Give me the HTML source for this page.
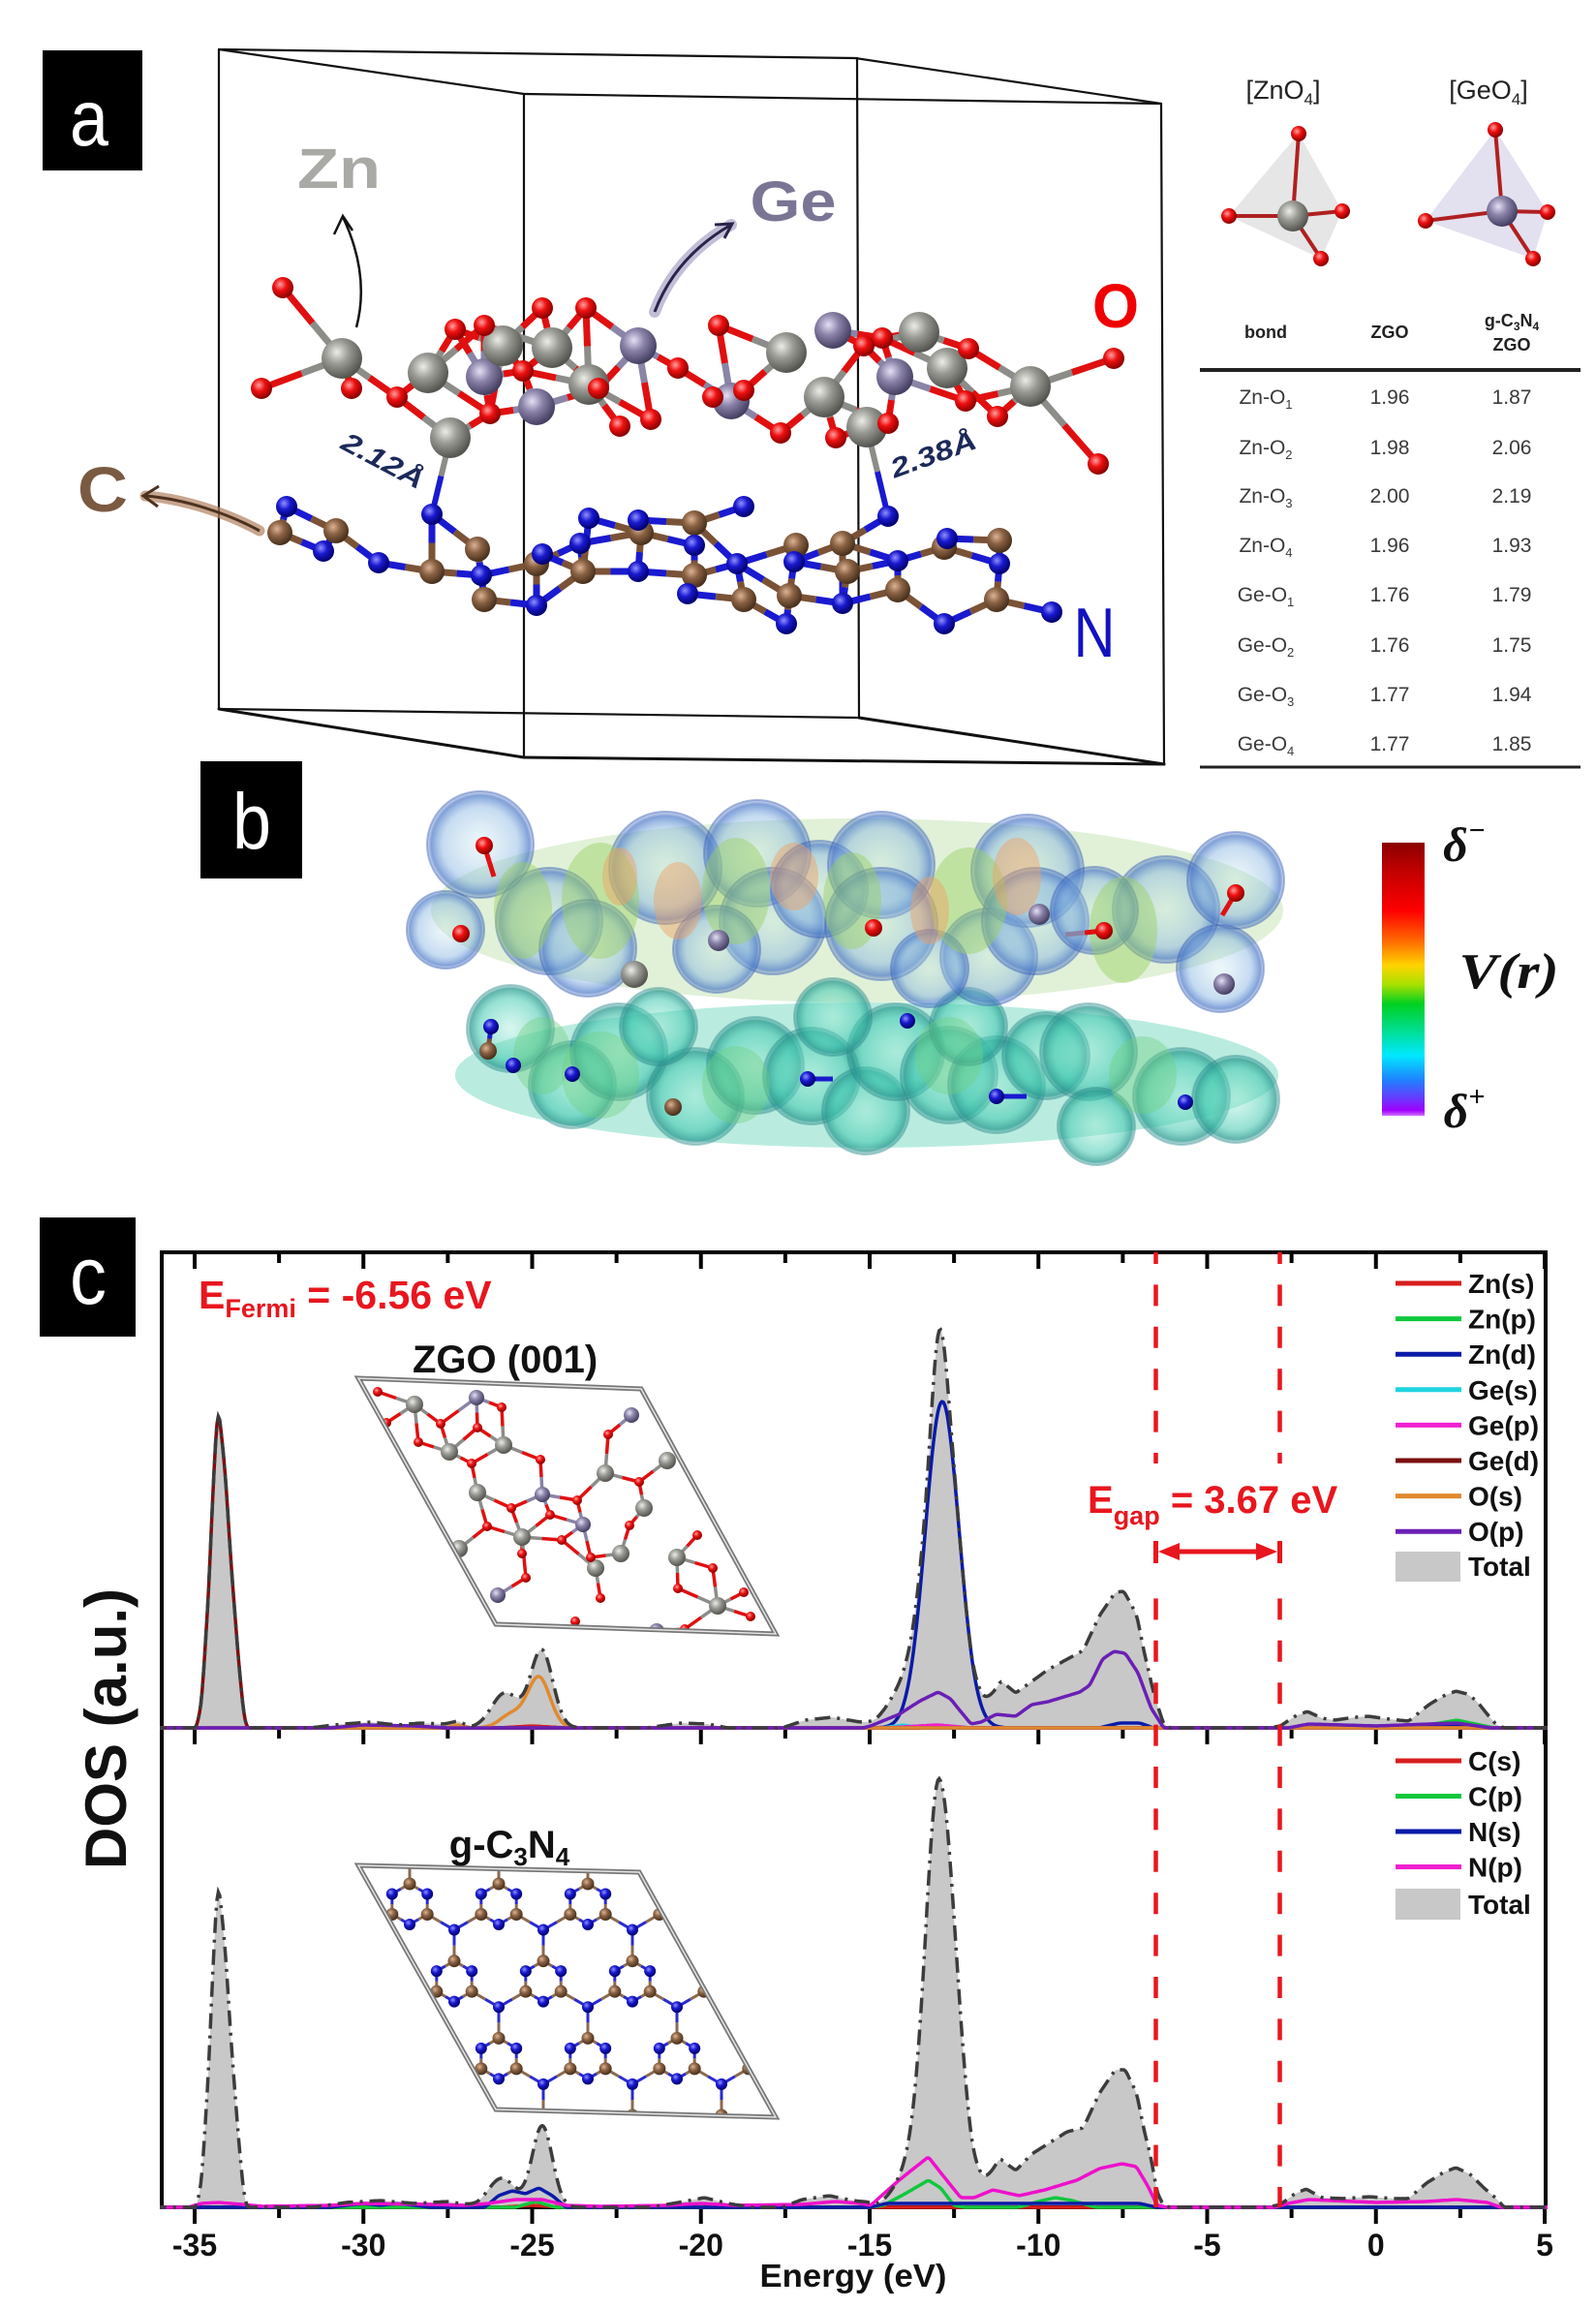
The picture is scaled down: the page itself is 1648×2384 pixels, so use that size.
<!DOCTYPE html>
<html><head><meta charset="utf-8">
<style>
html,body{margin:0;padding:0;background:#fff;}
svg{display:block;}
text{font-family:"Liberation Sans",Arial,sans-serif;}
.serif{font-family:"Liberation Serif","DejaVu Serif",serif;}
</style></head><body>
<svg id="s" xmlns="http://www.w3.org/2000/svg" width="1648" height="2384" viewBox="0 0 1648 2384">
<defs>
 <clipPath id="cpTop"><rect x="165" y="1293" width="1433" height="494"/></clipPath>
 <clipPath id="cpBot"><rect x="165" y="1784" width="1433" height="498"/></clipPath>
 <clipPath id="cpZ"><polygon points="370,1423 662,1434 801,1687 512,1677"/></clipPath>
 <clipPath id="cpG"><polygon points="370,1926 660,1933 801,2186 512,2178"/></clipPath>
 <linearGradient id="cbar" x1="0" y1="0" x2="0" y2="1">
  <stop offset="0" stop-color="#8b0000"/><stop offset="0.1" stop-color="#c00000"/>
  <stop offset="0.25" stop-color="#ff0000"/><stop offset="0.36" stop-color="#ff6a00"/>
  <stop offset="0.45" stop-color="#ffd400"/><stop offset="0.52" stop-color="#a8e000"/>
  <stop offset="0.59" stop-color="#00d020"/><stop offset="0.7" stop-color="#00e0a0"/>
  <stop offset="0.78" stop-color="#00e8ff"/><stop offset="0.87" stop-color="#2080ff"/>
  <stop offset="0.93" stop-color="#6040ff"/><stop offset="0.98" stop-color="#a000ff"/>
  <stop offset="1" stop-color="#d070ff"/>
 </linearGradient>
 <radialGradient id="gZn" cx="0.38" cy="0.35" r="0.65"><stop offset="0" stop-color="#ececE8"/><stop offset="0.45" stop-color="#9a9a94"/><stop offset="1" stop-color="#55554f"/></radialGradient>
 <radialGradient id="gGe" cx="0.38" cy="0.35" r="0.65"><stop offset="0" stop-color="#e4e0f4"/><stop offset="0.45" stop-color="#8a82a8"/><stop offset="1" stop-color="#453f62"/></radialGradient>
 <radialGradient id="gO" cx="0.38" cy="0.35" r="0.65"><stop offset="0" stop-color="#ffa0a0"/><stop offset="0.45" stop-color="#ee1010"/><stop offset="1" stop-color="#8a0000"/></radialGradient>
 <radialGradient id="gN" cx="0.38" cy="0.35" r="0.65"><stop offset="0" stop-color="#9090ff"/><stop offset="0.45" stop-color="#1a1ad0"/><stop offset="1" stop-color="#00006e"/></radialGradient>
 <radialGradient id="gC" cx="0.38" cy="0.35" r="0.65"><stop offset="0" stop-color="#dcb494"/><stop offset="0.45" stop-color="#8a6244"/><stop offset="1" stop-color="#48301c"/></radialGradient>
 <radialGradient id="bu" cx="0.5" cy="0.5" r="0.5"><stop offset="0" stop-color="#b8e0e8" stop-opacity="0.25"/><stop offset="0.7" stop-color="#80b0e0" stop-opacity="0.45"/><stop offset="0.92" stop-color="#4a78c8" stop-opacity="0.7"/><stop offset="1" stop-color="#3a60b8" stop-opacity="0.2"/></radialGradient>
 <radialGradient id="bl" cx="0.5" cy="0.5" r="0.5"><stop offset="0" stop-color="#90e8d0" stop-opacity="0.35"/><stop offset="0.7" stop-color="#40c8b0" stop-opacity="0.55"/><stop offset="0.92" stop-color="#2a9a90" stop-opacity="0.75"/><stop offset="1" stop-color="#2a8a90" stop-opacity="0.2"/></radialGradient>
</defs>
<rect width="1648" height="2384" fill="#fff"/>

<!-- ================= PANEL A ================= -->
<rect x="44" y="52" width="103" height="124" fill="#000"/>
<text x="92" y="150" fill="#fff" font-size="82" text-anchor="middle" textLength="40" lengthAdjust="spacingAndGlyphs">a</text>

<g stroke="#111" stroke-width="2.2" fill="none" stroke-linecap="round">
 <line x1="226" y1="51" x2="883" y2="60"/>
 <line x1="226" y1="51" x2="541" y2="97"/>
 <line x1="541" y1="97" x2="1199" y2="107"/>
 <line x1="883" y1="60" x2="1199" y2="107"/>
 <line x1="226" y1="51" x2="226" y2="732"/>
 <line x1="541" y1="97" x2="541" y2="782"/>
 <line x1="885" y1="60" x2="887" y2="741"/>
 <line x1="1199" y1="107" x2="1202" y2="789"/>
 <line x1="226" y1="732" x2="541" y2="782" stroke-width="3"/>
 <line x1="541" y1="782" x2="1202" y2="789" stroke-width="3"/>
 <line x1="226" y1="732" x2="887" y2="741"/>
 <line x1="887" y1="741" x2="1202" y2="789" stroke-width="3"/>
</g>

<g id="molB"></g>
<g id="molA"></g>

<!-- arrows -->
<path d="M368,338 C378,300 372,262 354,224" fill="none" stroke="#fff" stroke-width="8" opacity="0.9"/>
<path d="M368,338 C378,300 372,262 354,224 M345,242 L354,223 L364,238" fill="none" stroke="#111" stroke-width="2.5"/>
<path d="M676,322 C690,285 715,255 755,232" fill="none" stroke="#a9a2c8" stroke-width="12" opacity="0.7" stroke-linecap="round"/>
<path d="M676,322 C690,285 715,255 755,232 M738,232 L756,231 L748,246" fill="none" stroke="#2a2448" stroke-width="3"/>
<path d="M268,548 C235,530 190,515 150,512" fill="none" stroke="#b08060" stroke-width="11" opacity="0.7" stroke-linecap="round"/>
<path d="M268,548 C235,530 190,515 150,512 M164,502 L148,512 L163,523" fill="none" stroke="#4e3220" stroke-width="3"/>

<text x="350" y="194" fill="#a9a9a5" font-size="58" font-weight="bold" text-anchor="middle" textLength="86" lengthAdjust="spacingAndGlyphs">Zn</text>
<text x="819" y="228" fill="#7b7595" font-size="58" font-weight="bold" text-anchor="middle" textLength="89" lengthAdjust="spacingAndGlyphs">Ge</text>
<text x="1152" y="338" fill="#f00000" font-size="64" font-weight="bold" text-anchor="middle" textLength="48" lengthAdjust="spacingAndGlyphs">O</text>
<text x="1130" y="678" fill="#1212c0" font-size="72" text-anchor="middle" textLength="43" lengthAdjust="spacingAndGlyphs">N</text>
<text x="106" y="528" fill="#7b5a42" font-size="66" font-weight="bold" text-anchor="middle" textLength="52" lengthAdjust="spacingAndGlyphs">C</text>
<text transform="translate(391,484) rotate(28)" fill="#1c2a5a" font-size="28" font-weight="bold" font-style="italic" text-anchor="middle" textLength="92" lengthAdjust="spacingAndGlyphs">2.12Å</text>
<text transform="translate(967,478) rotate(-20)" fill="#1c2a5a" font-size="28" font-weight="bold" font-style="italic" text-anchor="middle" textLength="92" lengthAdjust="spacingAndGlyphs">2.38Å</text>

<!-- table -->
<text x="1325" y="102" font-size="27" text-anchor="middle" fill="#222">[ZnO<tspan font-size="17" dy="6">4</tspan><tspan dy="-6">]</tspan></text>
<text x="1537" y="102" font-size="27" text-anchor="middle" fill="#222">[GeO<tspan font-size="17" dy="6">4</tspan><tspan dy="-6">]</tspan></text>
<polygon points="1341,138 1269,223 1364,267 1386,218" fill="#b8b8b8" opacity="0.35"/>
<polygon points="1544,134 1472,228 1583,267 1598,219" fill="#b8b4d8" opacity="0.4"/>
<g stroke-width="4">
 <line x1="1335" y1="223" x2="1341" y2="138" stroke="#b02020"/>
 <line x1="1335" y1="223" x2="1269" y2="223" stroke="#b02020"/>
 <line x1="1335" y1="223" x2="1386" y2="218" stroke="#b02020"/>
 <line x1="1335" y1="223" x2="1364" y2="267" stroke="#b02020"/>
 <line x1="1551" y1="218" x2="1544" y2="134" stroke="#b02020"/>
 <line x1="1551" y1="218" x2="1472" y2="228" stroke="#b02020"/>
 <line x1="1551" y1="218" x2="1598" y2="219" stroke="#b02020"/>
 <line x1="1551" y1="218" x2="1583" y2="267" stroke="#b02020"/>
</g>
<circle cx="1335" cy="223" r="16" fill="url(#gZn)"/>
<circle cx="1551" cy="218" r="16" fill="url(#gGe)"/>
<g fill="url(#gO)">
 <circle cx="1341" cy="138" r="8"/><circle cx="1269" cy="223" r="8"/><circle cx="1386" cy="218" r="8"/><circle cx="1364" cy="267" r="8"/>
 <circle cx="1544" cy="134" r="8"/><circle cx="1472" cy="228" r="8"/><circle cx="1598" cy="219" r="8"/><circle cx="1583" cy="267" r="8"/>
</g>
<g font-size="18" font-weight="bold" text-anchor="middle" fill="#222">
 <text x="1307" y="349">bond</text>
 <text x="1435" y="349">ZGO</text>
 <text x="1561" y="337">g-C<tspan font-size="12" dy="4">3</tspan><tspan dy="-4">N</tspan><tspan font-size="12" dy="4">4</tspan></text>
 <text x="1561" y="362">ZGO</text>
</g>
<line x1="1239" y1="382" x2="1632" y2="382" stroke="#222" stroke-width="4"/>
<line x1="1239" y1="792" x2="1632" y2="792" stroke="#222" stroke-width="3"/>
<g font-size="21" text-anchor="middle" fill="#3a3a3a">
 <text x="1307" y="417">Zn-O<tspan font-size="13" dy="5">1</tspan></text><text x="1435" y="417">1.96</text><text x="1561" y="417">1.87</text>
 <text x="1307" y="469">Zn-O<tspan font-size="13" dy="5">2</tspan></text><text x="1435" y="469">1.98</text><text x="1561" y="469">2.06</text>
 <text x="1307" y="519">Zn-O<tspan font-size="13" dy="5">3</tspan></text><text x="1435" y="519">2.00</text><text x="1561" y="519">2.19</text>
 <text x="1307" y="570">Zn-O<tspan font-size="13" dy="5">4</tspan></text><text x="1435" y="570">1.96</text><text x="1561" y="570">1.93</text>
 <text x="1307" y="621">Ge-O<tspan font-size="13" dy="5">1</tspan></text><text x="1435" y="621">1.76</text><text x="1561" y="621">1.79</text>
 <text x="1307" y="673">Ge-O<tspan font-size="13" dy="5">2</tspan></text><text x="1435" y="673">1.76</text><text x="1561" y="673">1.75</text>
 <text x="1307" y="724">Ge-O<tspan font-size="13" dy="5">3</tspan></text><text x="1435" y="724">1.77</text><text x="1561" y="724">1.94</text>
 <text x="1307" y="775">Ge-O<tspan font-size="13" dy="5">4</tspan></text><text x="1435" y="775">1.77</text><text x="1561" y="775">1.85</text>
</g>

<!-- ================= PANEL B ================= -->
<rect x="207" y="786" width="105" height="121" fill="#000"/>
<text x="260" y="876" fill="#fff" font-size="82" text-anchor="middle" textLength="40" lengthAdjust="spacingAndGlyphs">b</text>
<g id="esp"></g>
<rect x="1427" y="870" width="44" height="282" fill="url(#cbar)"/>
<text class="serif" x="1512" y="889" font-size="50" font-style="italic" font-weight="bold" text-anchor="middle" fill="#111">δ<tspan font-size="30" dy="-22">−</tspan></text>
<text class="serif" x="1558" y="1020" font-size="52" font-style="italic" font-weight="bold" text-anchor="middle" fill="#111" textLength="103" lengthAdjust="spacingAndGlyphs">V(r)</text>
<text class="serif" x="1512" y="1164" font-size="50" font-style="italic" font-weight="bold" text-anchor="middle" fill="#111">δ<tspan font-size="30" dy="-22">+</tspan></text>

<!-- ================= PANEL C ================= -->
<rect x="41" y="1257" width="99" height="123" fill="#000"/>
<text x="91" y="1346" fill="#fff" font-size="84" text-anchor="middle" textLength="38" lengthAdjust="spacingAndGlyphs">c</text>

<g id="plotTop" clip-path="url(#cpTop)"></g>
<g id="plotBot" clip-path="url(#cpBot)"></g>
<g id="frame"></g>
<g id="plotTop2" clip-path="url(#cpTop)"></g>
<g id="plotBot2" clip-path="url(#cpBot)"></g>
<g id="redlines"></g>

<g id="insetZ"></g>
<g id="insetG"></g>

<text x="205" y="1351" fill="#e8161e" font-weight="bold" font-size="41">E<tspan font-size="27" dy="9">Fermi</tspan><tspan dy="-9"> = -6.56 eV</tspan></text>
<text x="1123" y="1562" fill="#e8161e" font-weight="bold" font-size="40">E<tspan font-size="27" dy="12">gap</tspan><tspan dy="-12"> = 3.67 eV</tspan></text>
<text x="426" y="1417" font-weight="bold" font-size="40" fill="#111">ZGO (001)</text>
<text x="526" y="1918" font-weight="bold" font-size="40" fill="#111" text-anchor="middle">g-C<tspan font-size="26" dy="8">3</tspan><tspan dy="-8">N</tspan><tspan font-size="26" dy="8">4</tspan></text>

<!-- legends -->
<g stroke-width="5">
 <line x1="1441" y1="1325" x2="1509" y2="1325" stroke="#d81e1e"/>
 <line x1="1441" y1="1361.6" x2="1509" y2="1361.6" stroke="#10c83c"/>
 <line x1="1441" y1="1398.2" x2="1509" y2="1398.2" stroke="#0a1aa8"/>
 <line x1="1441" y1="1434.8" x2="1509" y2="1434.8" stroke="#1ed4e0"/>
 <line x1="1441" y1="1471.4" x2="1509" y2="1471.4" stroke="#f020d0"/>
 <line x1="1441" y1="1508" x2="1509" y2="1508" stroke="#7a1010"/>
 <line x1="1441" y1="1544.6" x2="1509" y2="1544.6" stroke="#e08a30"/>
 <line x1="1441" y1="1581.2" x2="1509" y2="1581.2" stroke="#6a1fb5"/>
 <line x1="1441" y1="1818" x2="1509" y2="1818" stroke="#d81e1e"/>
 <line x1="1441" y1="1854.5" x2="1509" y2="1854.5" stroke="#10c83c"/>
 <line x1="1441" y1="1891" x2="1509" y2="1891" stroke="#0a1aa8"/>
 <line x1="1441" y1="1927.5" x2="1509" y2="1927.5" stroke="#f020d0"/>
</g>
<rect x="1441" y="1602" width="67" height="31" fill="#c8c8c8"/>
<rect x="1441" y="1950" width="67" height="32" fill="#c8c8c8"/>
<g font-size="28" font-weight="bold" fill="#111">
 <text x="1516" y="1335">Zn(s)</text>
 <text x="1516" y="1371.6">Zn(p)</text>
 <text x="1516" y="1408.2">Zn(d)</text>
 <text x="1516" y="1444.8">Ge(s)</text>
 <text x="1516" y="1481.4">Ge(p)</text>
 <text x="1516" y="1518">Ge(d)</text>
 <text x="1516" y="1554.6">O(s)</text>
 <text x="1516" y="1591.2">O(p)</text>
 <text x="1516" y="1627">Total</text>
 <text x="1516" y="1828">C(s)</text>
 <text x="1516" y="1864.5">C(p)</text>
 <text x="1516" y="1901">N(s)</text>
 <text x="1516" y="1937.5">N(p)</text>
 <text x="1516" y="1976">Total</text>
</g>

<!-- axis labels -->
<g font-size="32" font-weight="bold" fill="#111" text-anchor="middle">
 <text x="201" y="2329">-35</text>
 <text x="375.25" y="2329">-30</text>
 <text x="549.5" y="2329">-25</text>
 <text x="723.75" y="2329">-20</text>
 <text x="898" y="2329">-15</text>
 <text x="1072.25" y="2329">-10</text>
 <text x="1246.5" y="2329">-5</text>
 <text x="1420.75" y="2329">0</text>
 <text x="1595" y="2329">5</text>
</g>
<text x="881" y="2361" font-size="33" font-weight="bold" fill="#111" text-anchor="middle" textLength="193" lengthAdjust="spacingAndGlyphs">Energy (eV)</text>
<text transform="translate(130,1785) rotate(-90)" font-size="60" font-weight="bold" fill="#111" text-anchor="middle" textLength="290" lengthAdjust="spacingAndGlyphs">DOS (a.u.)</text>
</svg>

<script>
(function(){
const NS="http://www.w3.org/2000/svg";
function E_(tag,at,par){const e=document.createElementNS(NS,tag);for(const k in at)e.setAttribute(k,at[k]);par.appendChild(e);return e;}
const $=id=>document.getElementById(id);
function atom(par,x,y,r,g){E_('circle',{cx:x,cy:y,r:r,fill:'url(#'+g+')'},par);}
function bond(par,x1,y1,x2,y2,c1,c2,w){const mx=(x1+x2)/2,my=(y1+y2)/2;
 E_('line',{x1:x1,y1:y1,x2:mx,y2:my,stroke:c1,'stroke-width':w},par);
 E_('line',{x1:mx,y1:my,x2:x2,y2:y2,stroke:c2,'stroke-width':w},par);}
const dist=(a,b)=>Math.hypot(a[0]-b[0],a[1]-b[1]);

/* ---------- panel a molecule ---------- */
{
const Zn=[[353,370],[442,385],[519,357],[570,359],[608,397],[465,452],[812,364],[949,343],[978,380],[851,410],[1064,399],[895,441]];
const Ge=[[500,389],[554,420],[659,357],[860,341],[924,389],[755,414]];
const O=[[292,297],[270,401],[363,401],[500,336],[560,318],[605,318],[618,401],[506,427],[672,433],[742,336],[736,410],[768,403],[806,447],[863,452],[917,437],[911,349],[892,357],[997,414],[1150,370],[1134,479],[540,383],[700,380],[1000,360],[410,410],[470,340],[640,440],[1030,430]];
const N=[[296,523],[446,531],[334,569],[391,581],[497,594],[554,625],[599,561],[608,535],[659,537],[659,590],[710,613],[768,523],[812,644],[917,533],[927,579],[978,556],[1032,582],[975,644],[1086,632],[870,623],[761,582],[717,563],[560,572],[820,580]];
const C=[[289,550],[347,548],[446,590],[493,567],[500,619],[554,582],[602,590],[662,550],[717,540],[717,594],[768,619],[815,615],[822,563],[870,561],[927,609],[975,565],[1032,558],[1029,619],[875,590]];
const B=$('molB'),A=$('molA');
C.forEach(c=>N.forEach(n=>{if(dist(c,n)<64)bond(B,c[0],c[1],n[0],n[1],'#7a5236','#1a1ad0',7);}));
Zn.forEach(m=>O.forEach(o=>{if(dist(m,o)<80)bond(B,m[0],m[1],o[0],o[1],'#8c8c88','#e01010',7);}));
Ge.forEach(m=>O.forEach(o=>{if(dist(m,o)<80)bond(B,m[0],m[1],o[0],o[1],'#8a84a6','#e01010',7);}));
[[353,370,292,297],[353,370,270,401],[1064,399,1150,370],[1064,399,1134,479]].forEach(b=>bond(B,b[0],b[1],b[2],b[3],'#8c8c88','#e01010',7));
bond(B,465,452,446,531,'#8c8c88','#1a1ad0',6);
bond(B,895,441,917,533,'#8c8c88','#1a1ad0',6);
C.forEach(p=>atom(A,p[0],p[1],13,'gC'));
N.forEach(p=>atom(A,p[0],p[1],11,'gN'));
Ge.forEach(p=>atom(A,p[0],p[1],19,'gGe'));
Zn.forEach(p=>atom(A,p[0],p[1],21,'gZn'));
O.forEach(p=>atom(A,p[0],p[1],11,'gO'));
}

/* ---------- panel b ESP ---------- */
{
const g=$('esp');
E_('ellipse',{cx:885,cy:940,rx:440,ry:95,fill:'#a8d890',opacity:0.35},g);
E_('ellipse',{cx:895,cy:1110,rx:425,ry:75,fill:'#50d0b0',opacity:0.4},g);
const up=[[496,872,55],[567,951,55],[607,979,50],[687,896,58],[782,881,55],[798,951,55],[846,918,50],[910,893,55],[910,954,58],[1021,988,50],[1061,899,58],[1069,951,55],[1204,939,55],[1276,909,50],[1260,1000,45],[460,960,40],[740,980,45],[960,1000,40],[1130,940,45]];
const lo=[[527,1062,45],[591,1120,45],[639,1086,50],[718,1132,50],[780,1100,50],[838,1111,50],[894,1147,45],[925,1086,50],[980,1110,50],[1029,1120,50],[1080,1090,45],[1124,1086,50],[1132,1163,40],[1220,1132,50],[1276,1135,45],[680,1060,40],[860,1050,40],[1000,1060,40]];
lo.forEach(b=>E_('circle',{cx:b[0],cy:b[1],r:b[2],fill:'url(#bl)',stroke:'#2a8a8a','stroke-width':2,'stroke-opacity':0.4},g));
up.forEach(b=>E_('circle',{cx:b[0],cy:b[1],r:b[2],fill:'url(#bu)',stroke:'#3a62b8','stroke-width':2,'stroke-opacity':0.45},g));
[[620,930,40,60],[760,920,35,55],[1000,930,40,55],[1160,960,35,55],[880,930,30,50],[540,940,30,50]].forEach(e=>E_('ellipse',{cx:e[0],cy:e[1],rx:e[2],ry:e[3],fill:'#9ad060',opacity:0.45},g));
[[700,930,25,40],[820,905,25,35],[1050,905,25,40],[960,940,20,35],[640,905,18,30]].forEach(e=>E_('ellipse',{cx:e[0],cy:e[1],rx:e[2],ry:e[3],fill:'#f0a060',opacity:0.45},g));
[[620,1110,40,45],[760,1120,35,40],[980,1090,35,40],[1180,1110,35,40],[560,1090,30,40]].forEach(e=>E_('ellipse',{cx:e[0],cy:e[1],rx:e[2],ry:e[3],fill:'#70d080',opacity:0.4},g));
bond(g,500,873,510,905,'#e01010','#e01010',5);
bond(g,1140,961,1100,965,'#e01010','#8a84a6',5);
bond(g,1276,922,1262,945,'#e01010','#e01010',5);
bond(g,507,1060,504,1085,'#1a1ad0','#7a5236',5);
bond(g,834,1114,860,1114,'#1a1ad0','#1a1ad0',5);
bond(g,1029,1132,1060,1132,'#1a1ad0','#1a1ad0',5);
[[500,873],[476,964],[902,958],[1140,961],[1276,922]].forEach(p=>atom(g,p[0],p[1],9,'gO'));
[[742,971],[1073,944],[1264,1016]].forEach(p=>atom(g,p[0],p[1],11,'gGe'));
atom(g,655,1006,14,'gZn');
[[507,1060],[591,1109],[834,1114],[1029,1132],[1224,1138],[937,1054],[530,1100]].forEach(p=>atom(g,p[0],p[1],8,'gN'));
[[504,1085],[695,1143]].forEach(p=>atom(g,p[0],p[1],9,'gC'));
}

/* ---------- panel c chart ---------- */
const X=e=>201+(e+35)*34.85;
const peak34=[[-34.95,0],[-34.8,25],[-34.6,130],[-34.45,250],[-34.35,315],[-34.3,327],[-34.25,318],[-34.1,265],[-33.9,160],[-33.7,70],[-33.55,15],[-33.45,0]];
const scaleP=(p,k)=>p.map(q=>[q[0],q[1]*k]);
function interp(pts,e){if(!pts.length||e<=pts[0][0]||e>=pts[pts.length-1][0])return 0;
 for(let i=1;i<pts.length;i++){if(e<=pts[i][0]){const a=pts[i-1],b=pts[i];return a[1]+(b[1]-a[1])*(e-a[0])/(b[0]-a[0]);}}return 0;}
function series(gs,pts){
 pts=pts.slice().sort((a,b)=>a[0]-b[0]);
 const xs=[],vg=[],vp=[];
 for(let e=-36.3;e<=5.3;e+=0.04){xs.push(e);
  let v=0;for(const g of gs){const c=g[0],h=g[1],s=(g.length>3&&e>c)?g[3]:g[2];v+=h*Math.exp(-(e-c)*(e-c)/(2*s*s));}
  vg.push(v);vp.push(interp(pts,e));}
 const vs=vp.map((v,i)=>{let s=0,n=0;for(let k=-1;k<=1;k++){const j=i+k;if(j>=0&&j<vp.length){s+=vp[j];n++;}}return s/n+vg[i];});
 return [xs,vs];}
function pathOf(sr,yb){const [xs,vs]=sr;let d='';xs.forEach((e,i)=>{d+=(i?'L':'M')+X(e).toFixed(1)+','+(yb-vs[i]).toFixed(1);});return d;}
function fillOf(sr,yb){const xs=sr[0];return pathOf(sr,yb)+'L'+X(xs[xs.length-1]).toFixed(1)+','+yb+'L'+X(xs[0]).toFixed(1)+','+yb+'Z';}

const ybT=1784, ybB=2279;
const totT=series([[-24.72,80,0.33],[-25.8,36,0.4],[-12.85,337,0.5],[-12.95,75,0.2],[-14.0,35,0.5]],
 peak34.concat([[-31.6,0],[-30.6,4],[-29.8,6],[-29,3],[-28.3,5],[-27.6,4],[-27.2,7],[-26.8,0],[-21.6,0],[-20.6,5],[-19.8,4],[-19.2,0],[-17.6,0],[-16.9,8],[-16.1,11],[-15.5,7],[-15.1,3],[-14.8,0],[-12.0,0],[-11.6,18],[-11.1,48],[-10.67,36],[-9.72,60],[-8.67,80],[-8.19,116],[-7.72,140],[-7.47,141],[-7.09,117],[-6.86,77],[-6.57,34],[-6.29,4],[-6.1,0],[-3.2,0],[-2.83,2],[-2.4,12],[-2.03,17],[-1.6,10],[-1.23,8],[-0.6,11],[-0.23,12],[0.4,9],[0.97,7],[1.57,24],[2.0,33],[2.37,38],[2.7,35],[2.98,28],[3.3,14],[3.58,3],[3.8,0]]));
const topS=[
 ['#d81e1e',series([],[[-26,0],[-25,2],[-24,0]])],
 ['#10c83c',series([],[[1.0,0],[2.4,8],[3.5,0],[-14.5,0],[-13,3],[-12,0]])],
 ['#0a1aa8',series([[-12.85,337,0.5]],[[-8.2,0],[-7.6,5],[-7.0,5],[-6.6,0],[1.2,0],[2.4,3],[3.4,0],[-30.5,0],[-30,2],[-29,0]])],
 ['#1ed4e0',series([],[[-14.6,0],[-14,3],[-13.5,0]])],
 ['#f020d0',series([],[[-14.5,0],[-13,3],[-12,0]])],
 ['#7a1010',series([],peak34)],
 ['#e08a30',series([[-24.8,52,0.33],[-25.6,14,0.35]],[[-27.6,0],[-27.2,3],[-26.8,0]])],
 ['#6a1fb5',series([],[[-31,0],[-30,3],[-28.5,2],[-27.5,0],[-15.2,0],[-14.97,2],[-14.13,14],[-13.5,28],[-12.97,37],[-12.6,30],[-12.4,21],[-12.0,4],[-11.7,6],[-11.25,14],[-10.67,12],[-10.2,24],[-9.72,27],[-8.77,37],[-8.48,44],[-8.1,71],[-7.76,79],[-7.43,77],[-7.05,57],[-6.67,21],[-6.29,0],[-2.6,0],[-2,4],[0,2],[2.4,5],[3.4,0]])]
];
const totB=series([[-12.93,430,0.4,0.5],[-13.7,40,0.5],[-24.7,84,0.3],[-25.9,30,0.4]],
 scaleP(peak34,331/327).concat([[-31.5,0],[-30.5,5],[-29.5,7],[-28.5,4],[-27.5,6],[-27,3],[-26.6,0],[-21.5,0],[-20.5,6],[-19.9,10],[-19.2,4],[-18.5,0],[-17.6,0],[-17,8],[-16.2,12],[-15.5,7],[-15.1,5],[-14.8,0],[-12.0,0],[-11.6,20],[-11.15,50],[-10.67,38],[-10.2,55],[-9.15,78],[-8.67,82],[-8.19,118],[-7.72,142],[-7.43,142],[-7.09,118],[-6.86,78],[-6.67,52],[-6.48,15],[-6.29,2],[-6.1,0],[-3.2,0],[-2.83,3],[-2.4,14],[-2.07,19],[-1.6,10],[-1.0,9],[-0.2,11],[0.5,9],[0.96,9],[1.5,25],[2.0,36],[2.37,41],[2.8,34],[3.2,20],[3.57,9],[3.8,0]]));
const botS=[
 ['#d81e1e',series([],[[-26,0],[-25,2],[-24,0]])],
 ['#10c83c',series([],[[-15,0],[-14.59,2],[-13.9,15],[-13.26,28],[-12.9,20],[-12.5,2],[-12.2,0],[-10.6,0],[-10,6],[-9.5,10],[-9,7],[-8.3,0],[-25.5,0],[-24.9,6],[-24.3,0]])],
 ['#0a1aa8',series([],[[-15,0],[-14.5,4],[-7,4],[-6.5,0],[-26.4,0],[-26,12],[-25.6,17],[-25.2,14],[-24.8,20],[-24.4,12],[-24.0,0],[-31,0],[-30,4],[-29.5,2],[-29,4],[-28,0]])],
 ['#ee10cc',series([],[[-35.2,0],[-34.8,4],[-34.3,5],[-33.6,3],[-33,1],[-31,2],[-30,4],[-28,3],[-27,2],[-26.3,4],[-25.5,8],[-24.7,8],[-24,2],[-23,1],[-21,2],[-20,4],[-19,2],[-17,3],[-16,6],[-15.3,4],[-14.97,2],[-14.13,28],[-13.26,52],[-12.88,35],[-12.3,10],[-11.9,10],[-11.35,18],[-10.57,12],[-9.81,18],[-8.86,28],[-8.19,40],[-7.52,45],[-7.1,42],[-6.76,22],[-6.48,2],[-6.2,0],[-3,0],[-2.6,4],[-2,8],[0,5],[1.5,6],[2.4,8],[3.3,5],[3.7,0]])]
];
const pT=$('plotTop'),pB=$('plotBot'),pT2=$('plotTop2'),pB2=$('plotBot2');
E_('path',{d:fillOf(totT,ybT),fill:'#c8c8c8'},pT);
E_('path',{d:fillOf(totB,ybB),fill:'#c8c8c8'},pB);
const fr=$('frame');
E_('rect',{x:167,y:1293,width:1429,height:986,fill:'none',stroke:'#000','stroke-width':4},fr);
E_('line',{x1:165,y1:1784,x2:1598,y2:1784,stroke:'#000','stroke-width':4},fr);
for(let k=0;k<=16;k++){const e=-35+k*2.5,x=X(e),L=(k%2===0)?17:11;
 [1293,1784,2279].forEach(y=>E_('line',{x1:x,y1:y,x2:x,y2:y+L,stroke:'#000','stroke-width':4},fr));}
topS.forEach(s=>E_('path',{d:pathOf(s[1],ybT),fill:'none',stroke:s[0],'stroke-width':3.5,'stroke-linejoin':'round'},pT2));
botS.forEach(s=>E_('path',{d:pathOf(s[1],ybB),fill:'none',stroke:s[0],'stroke-width':3.5,'stroke-linejoin':'round'},pB2));
E_('path',{d:pathOf(totT,ybT),fill:'none',stroke:'#3c3c3c','stroke-width':3.5,'stroke-dasharray':'16 7 3 7'},pT2);
E_('path',{d:pathOf(totB,ybB),fill:'none',stroke:'#3c3c3c','stroke-width':3.5,'stroke-dasharray':'16 7 3 7'},pB2);
const rl=$('redlines'),red='#e8161e';
[1193.5,1321.5].forEach(x=>{
 E_('line',{x1:x,y1:1293,x2:x,y2:1511,stroke:red,'stroke-width':4.5,'stroke-dasharray':'22 21.4','stroke-dashoffset':10},rl);
 E_('line',{x1:x,y1:1636,x2:x,y2:2279,stroke:red,'stroke-width':4.5,'stroke-dasharray':'22 21.4','stroke-dashoffset':29},rl);
 E_('line',{x1:x,y1:1591,x2:x,y2:1614,stroke:red,'stroke-width':5},rl);
});
E_('line',{x1:1205,y1:1602,x2:1310,y2:1602,stroke:red,'stroke-width':5},rl);
E_('polygon',{points:'1196,1602 1218,1593 1218,1611',fill:red},rl);
E_('polygon',{points:'1319,1602 1297,1593 1297,1611',fill:red},rl);

/* ZGO inset */
{
const g=$('insetZ');
const gi=E_('g',{'clip-path':'url(#cpZ)'},g);
const Zn=[[428,1450],[464,1499],[520,1492],[493,1541],[474,1599],[539,1587],[625,1521],[689,1508],[665,1557],[641,1604],[699,1608],[741,1658],[615,1619]];
const Ge=[[492,1443],[560,1543],[602,1574],[514,1647],[652,1461],[678,1684]];
const O=[[390,1437],[399,1469],[432,1489],[518,1453],[493,1474],[487,1511],[558,1507],[528,1557],[503,1576],[568,1564],[596,1549],[539,1604],[543,1629],[610,1608],[594,1674],[628,1481],[736,1619],[768,1644],[775,1669],[707,1682],[650,1575],[660,1530],[720,1585],[455,1470],[580,1590],[700,1640],[620,1650]];
Zn.forEach(m=>O.forEach(o=>{if(dist(m,o)<46)bond(gi,m[0],m[1],o[0],o[1],'#8c8c88','#e01010',3.5);}));
Ge.forEach(m=>O.forEach(o=>{if(dist(m,o)<46)bond(gi,m[0],m[1],o[0],o[1],'#8a84a6','#e01010',3.5);}));
Zn.forEach(p=>atom(gi,p[0],p[1],9,'gZn'));
Ge.forEach(p=>atom(gi,p[0],p[1],8,'gGe'));
O.forEach(p=>atom(gi,p[0],p[1],5,'gO'));
E_('polygon',{points:'370,1423 662,1434 801,1687 512,1677',fill:'none',stroke:'#777','stroke-width':5},g);
E_('polygon',{points:'370,1423 662,1434 801,1687 512,1677',fill:'none',stroke:'#e4e4e4','stroke-width':1.5},g);
}
/* g-C3N4 inset: triazine rings (A sites) linked by 3-fold bridging N (B sites) */
{
const g=$('insetG');
const gi=E_('g',{'clip-path':'url(#cpG)'},g);
const a=92,d=a/Math.sqrt(3),r=21,rowH=a*Math.sqrt(3)/2;
const rad=t=>t*Math.PI/180;
const Cs=[],Ns=[],bonds=[];
const x0=423,y0=1966;
for(let j=-2;j<6;j++)for(let i=-6;i<9;i++){
 const ax=x0+i*a+j*a/2, ay=y0+j*rowH;
 if(ax<280||ax>900||ay<1850||ay>2280)continue;
 const ring=[];
 for(let k=0;k<6;k++){const ang=270+60*k;const p=[ax+r*Math.cos(rad(ang)),ay+r*Math.sin(rad(ang))];const isC=(k%2===0);ring.push([p,isC]);(isC?Cs:Ns).push(p);}
 for(let k=0;k<6;k++){const p=ring[k],q=ring[(k+1)%6];bonds.push([p[0],q[0],p[1],q[1]]);}
 // bridging N at B = A+(0,-d); C's bond to B sites
 Ns.push([ax,ay-d]);
 bonds.push([ring[0][0],[ax,ay-d],true,false]);
 bonds.push([ring[2][0],[ax+a/2,ay+d/2],true,false]);
 bonds.push([ring[4][0],[ax-a/2,ay+d/2],true,false]);
}
bonds.forEach(b=>{const p=b[0],q=b[1];bond(gi,p[0],p[1],q[0],q[1],b[2]?'#8b6a50':'#2a2ad0',b[3]?'#8b6a50':'#2a2ad0',3);});
Cs.forEach(p=>atom(gi,p[0],p[1],6.5,'gC'));
Ns.forEach(p=>atom(gi,p[0],p[1],6,'gN'));
E_('polygon',{points:'370,1926 660,1933 801,2186 512,2178',fill:'none',stroke:'#777','stroke-width':5},g);
E_('polygon',{points:'370,1926 660,1933 801,2186 512,2178',fill:'none',stroke:'#e4e4e4','stroke-width':1.5},g);
}
})();
</script>
</body></html>
